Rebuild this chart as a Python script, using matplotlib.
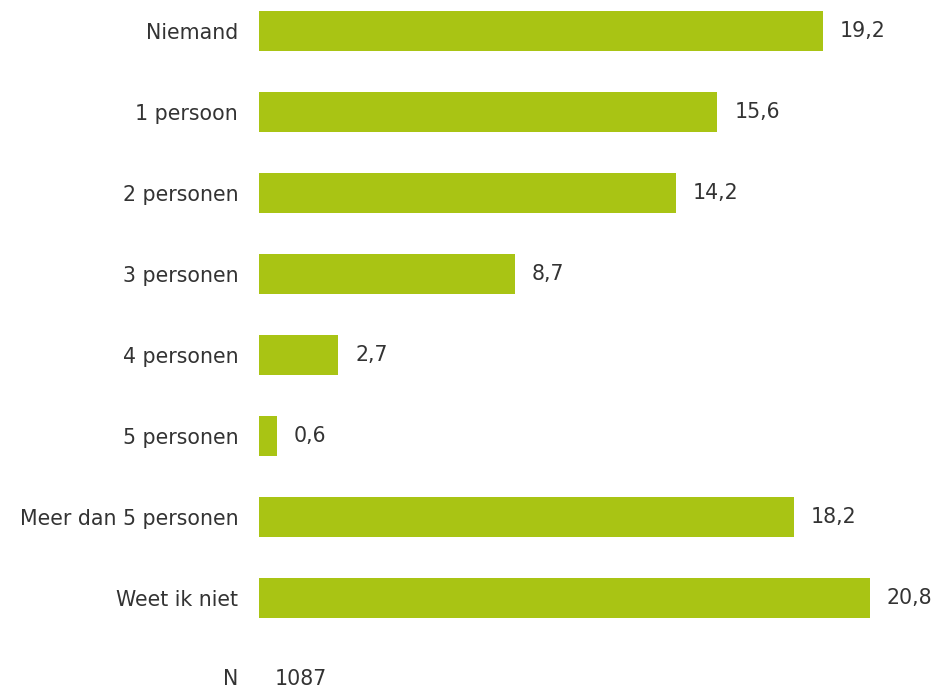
import matplotlib
matplotlib.use("Agg")
import matplotlib.pyplot as plt

categories = ["Niemand", "1 persoon", "2 personen", "3 personen", "4 personen",
              "5 personen", "Meer dan 5 personen", "Weet ik niet"]
values = [19.2, 15.6, 14.2, 8.7, 2.7, 0.6, 18.2, 20.8]
n_label = "N"
n_value = "1087"

bar_color = "#A9C414"
text_color = "#333333"
fs = 14.8

fig = plt.figure(figsize=(9.37, 6.89), dpi=100)
ax = fig.add_axes([259 / 937, 0, 1 - 259 / 937, 1])
ypos = list(range(len(categories)))
ax.barh(ypos, values, height=0.49, color=bar_color)
ax.set_xlim(0, (937 - 259) / 29.375)
ax.set_ylim(8.12, -0.383)
ax.set_yticks(ypos)
ax.set_yticklabels(categories, fontsize=fs, color=text_color)
ax.tick_params(axis="y", length=0, pad=15)
ax.set_xticks([])
for s in ax.spines.values():
    s.set_visible(False)

for y, v in zip(ypos, values):
    ax.annotate(f"{v:.1f}".replace(".", ","), (v, y), xytext=(17, 0),
                textcoords="offset pixels", va="center", ha="left",
                fontsize=fs, color=text_color)

ny = len(categories)
ax.annotate(n_label, (0, ny), xytext=(-21, 0), textcoords="offset pixels",
            va="center", ha="right", fontsize=fs, color=text_color)
ax.annotate(n_value, (0, ny), xytext=(16, 0), textcoords="offset pixels",
            va="center", ha="left", fontsize=fs, color=text_color)

fig.savefig("out.png", dpi=100)
